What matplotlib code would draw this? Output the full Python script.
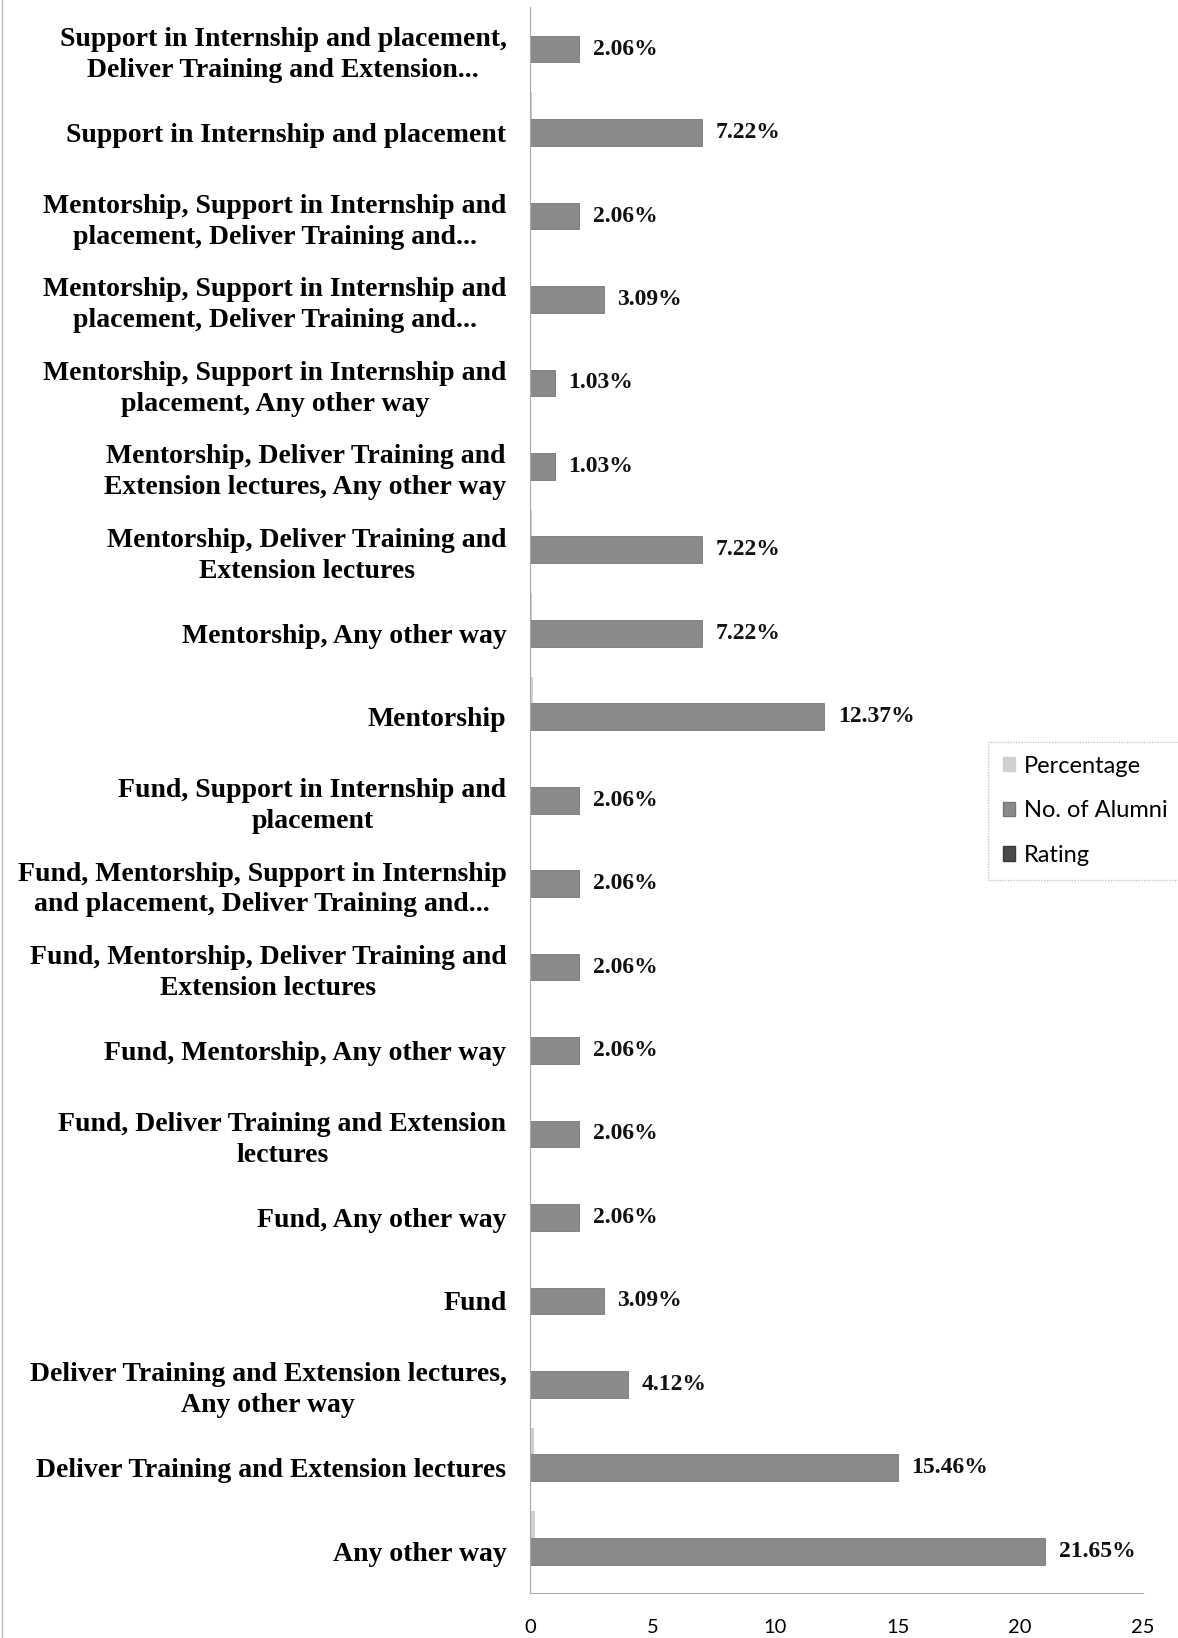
import numpy as np
import matplotlib.pyplot as plt
from matplotlib.patches import Patch

# categories listed top to bottom as in the chart
categories = [
    "Support in Internship and placement,\nDeliver Training and Extension...",
    "Support in Internship and placement",
    "Mentorship, Support in Internship and\nplacement, Deliver Training and...",
    "Mentorship, Support in Internship and\nplacement, Deliver Training and...",
    "Mentorship, Support in Internship and\nplacement, Any other way",
    "Mentorship, Deliver Training and\nExtension lectures, Any other way",
    "Mentorship, Deliver Training and\nExtension lectures",
    "Mentorship, Any other way",
    "Mentorship",
    "Fund, Support in Internship and\nplacement",
    "Fund, Mentorship, Support in Internship\nand placement, Deliver Training and...",
    "Fund, Mentorship, Deliver Training and\nExtension lectures",
    "Fund, Mentorship, Any other way",
    "Fund, Deliver Training and Extension\nlectures",
    "Fund, Any other way",
    "Fund",
    "Deliver Training and Extension lectures,\nAny other way",
    "Deliver Training and Extension lectures",
    "Any other way",
]
alumni = [2, 7, 2, 3, 1, 1, 7, 7, 12, 2, 2, 2, 2, 2, 2, 3, 4, 15, 21]
percentage = [2.06, 7.22, 2.06, 3.09, 1.03, 1.03, 7.22, 7.22, 12.37, 2.06,
              2.06, 2.06, 2.06, 2.06, 2.06, 3.09, 4.12, 15.46, 21.65]
xticks = [0, 5, 10, 15, 20, 25]

serif = "Liberation Serif"

fig = plt.figure(figsize=(11.78, 16.38), dpi=100)
ax = fig.add_axes([0.45, 0.0275, 0.52, 0.968])

y = np.arange(len(categories))[::-1]
h = 0.32

# percentage series stored as fractions, so it barely shows
ax.barh(y + h, np.array(percentage) / 100, height=h, color="#d0d0d0")
ax.barh(y, alumni, height=h, color="#8a8a8a", edgecolor="#777777", linewidth=0.6)

for yi, a, p in zip(y, alumni, percentage):
    ax.annotate(f"{p:.2f}%", (a, yi), xytext=(10, 0), textcoords="offset points",
                va="center", ha="left", fontsize=17, fontweight="bold",
                family=serif, color="#111111")

ax.set_xlim(0, 25)
ax.set_ylim(-0.5, len(categories) - 0.5)
ax.set_yticks(y)
ax.set_yticklabels(categories, fontsize=20, fontweight="bold", family=serif,
                   multialignment="center", linespacing=1.3)
ax.set_xticks(xticks)
ax.set_xticklabels([str(t) for t in xticks], fontsize=14.5, family="Lato")
ax.tick_params(axis="both", length=0)
ax.tick_params(axis="x", pad=19)
ax.tick_params(axis="y", pad=17)

for s in ["top", "right"]:
    ax.spines[s].set_visible(False)
ax.spines["left"].set_color("#aaaaaa")
ax.spines["bottom"].set_color("#aaaaaa")

handles = [Patch(facecolor="#d0d0d0", edgecolor="#d0d0d0"),
           Patch(facecolor="#8a8a8a", edgecolor="#777777"),
           Patch(facecolor="#4a4a4a", edgecolor="#3a3a3a")]
leg = fig.legend(handles, ["Percentage", "No. of Alumni", "Rating"],
                 loc="center", bbox_to_anchor=(0.921, 0.505),
                 prop={"family": "Lato", "size": 17}, frameon=True,
                 fancybox=False, handlelength=0.55, handleheight=0.55,
                 handletextpad=0.35, labelspacing=1.0, borderpad=0.6,
                 borderaxespad=0)
leg.get_frame().set_edgecolor("#bbbbbb")
leg.get_frame().set_linestyle((0, (1, 1)))

# scan border on left edge
fig.add_artist(plt.Line2D([0.0015, 0.0015], [0, 1], color="#bbbbbb", lw=1))

fig.savefig("out.png", dpi=100)
